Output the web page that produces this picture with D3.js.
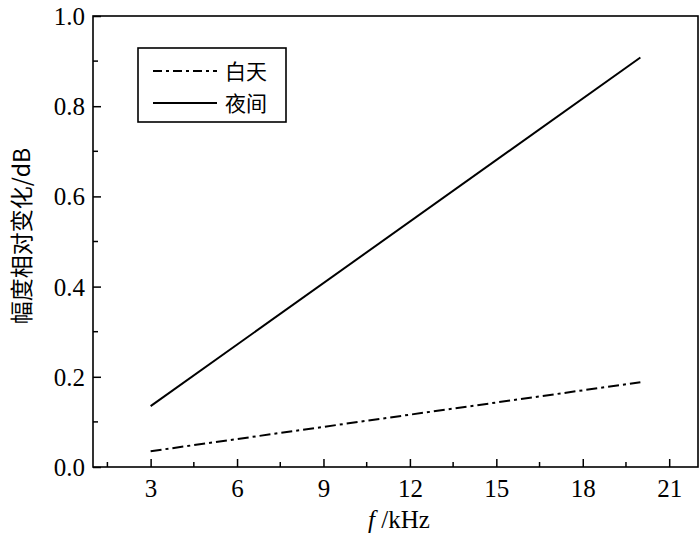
<!DOCTYPE html>
<html><head><meta charset="utf-8">
<script src="https://cdn.jsdelivr.net/npm/d3@7"></script>
<style>body{margin:0;background:#fff}
.serif{font-family:"Liberation Serif","Times New Roman",serif !important}
</style>
</head><body>
<svg id="c" width="700" height="538"></svg>
<script>
const seriesNames = ["白天", "夜间"];
const freq = [3, 20];
const dayValues = [0.035, 0.188];
const nightValues = [0.135, 0.908];
const xTicks = [3, 6, 9, 12, 15, 18, 21];
const yTicks = [0.0, 0.2, 0.4, 0.6, 0.8, 1.0];

const svg = d3.select("#c");
const L = 93, R = 698, T = 16, B = 467;
const x = d3.scaleLinear().domain([1, 22]).range([L, R]);
const y = d3.scaleLinear().domain([0, 1]).range([B, T]);
const cjk = "'Noto Sans CJK SC',sans-serif";

// frame
svg.append("rect").attr("x", L).attr("y", T).attr("width", R - L).attr("height", B - T)
  .attr("fill", "none").attr("stroke", "#000").attr("stroke-width", 1.6);

// x axis
const xMinor = d3.range(1.5, 22, 3);
const gx = svg.append("g").attr("transform", `translate(0,${B})`);
gx.call(d3.axisBottom(x).tickValues(xTicks).tickSize(-8).tickPadding(12).tickFormat(d3.format("d")));
gx.append("g").selectAll("line").data(xMinor).join("line")
  .attr("x1", d => x(d)).attr("x2", d => x(d)).attr("y1", 0).attr("y2", -5)
  .attr("stroke", "#000").attr("stroke-width", 1.5);
gx.select(".domain").remove();
gx.selectAll(".tick line").attr("stroke-width", 1.5);
gx.attr("font-family", null).attr("font-size", null);
gx.selectAll("text").attr("class", "serif").style("font-size", "25px").attr("fill", "#000");

// y axis
const yMinor = d3.range(0.1, 1.0, 0.2);
const gy = svg.append("g").attr("transform", `translate(${L},0)`);
gy.call(d3.axisLeft(y).tickValues(yTicks).tickSize(-8).tickPadding(8).tickFormat(d3.format(".1f")));
gy.append("g").selectAll("line").data(yMinor).join("line")
  .attr("y1", d => y(d)).attr("y2", d => y(d)).attr("x1", 0).attr("x2", 5)
  .attr("stroke", "#000").attr("stroke-width", 1.5);
gy.select(".domain").remove();
gy.selectAll(".tick line").attr("stroke-width", 1.5);
gy.attr("font-family", null).attr("font-size", null);
gy.selectAll("text").attr("class", "serif").style("font-size", "25px").attr("fill", "#000").attr("dy", "0.34em");

// lines
const line = d3.line().x(d => x(d[0])).y(d => y(d[1]));
svg.append("path").datum(freq.map((f, i) => [f, dayValues[i]]))
  .attr("d", line).attr("fill", "none").attr("stroke", "#000").attr("stroke-width", 2)
  .attr("stroke-dasharray", "11,4,3,4");
svg.append("path").datum(freq.map((f, i) => [f, nightValues[i]]))
  .attr("d", line).attr("fill", "none").attr("stroke", "#000").attr("stroke-width", 2);

// legend
const lg = svg.append("g");
lg.append("rect").attr("x", 138).attr("y", 48).attr("width", 148).attr("height", 74)
  .attr("fill", "#fff").attr("stroke", "#000").attr("stroke-width", 1.6);
const legY = [71, 103];
seriesNames.forEach((n, i) => {
  lg.append("line").attr("x1", 153).attr("x2", 217).attr("y1", legY[i]).attr("y2", legY[i])
    .attr("stroke", "#000").attr("stroke-width", 2)
    .attr("stroke-dasharray", i === 0 ? "9,4,3,4" : null);
  lg.append("text").attr("x", 225).attr("y", legY[i]).attr("dy", "0.36em")
    .attr("font-family", cjk).attr("font-size", 21).attr("fill", "#000").text(n);
});

// axis titles
const xt = svg.append("text").attr("class", "serif").attr("x", 399).attr("y", 528).attr("text-anchor", "middle")
  .style("font-size", "25px").attr("fill", "#000");
xt.append("tspan").attr("font-style", "italic").text("f");
xt.append("tspan").text(" /kHz");
svg.append("text").attr("transform", "translate(30,236) rotate(-90)").attr("text-anchor", "middle")
  .attr("font-family", cjk).attr("font-size", 23).attr("fill", "#000").text("幅度相对变化/dB");
</script>
</body></html>
